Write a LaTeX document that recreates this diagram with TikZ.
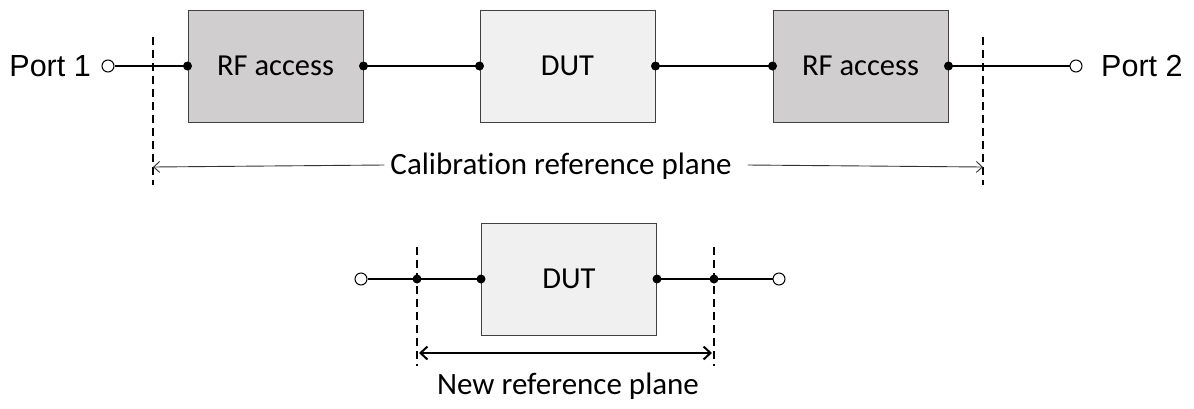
\documentclass[tikz,border=0pt]{standalone}
\usepackage{fontspec}
\setmainfont{Carlito}[Ligatures=NoCommon]
\newfontfamily\arialf{Liberation Sans}
\usetikzlibrary{arrows.meta}
\definecolor{rfgray}{HTML}{D0CECE}
\definecolor{dutgray}{HTML}{F0F0F0}
\definecolor{bordergray}{HTML}{404040}
\begin{document}
\begin{tikzpicture}[x=1pt,y=-1pt,
  blockbox/.style={draw=bordergray,line width=1pt,minimum width=175pt,minimum height=112pt,inner sep=0pt,font=\fontsize{30.5}{34}\selectfont},
  rfbox/.style={blockbox,fill=rfgray},
  dutbox/.style={blockbox,fill=dutgray},
  wire/.style={line width=2.2pt},
  dotpt/.style={circle,fill=black,inner sep=0pt,minimum size=9pt},
  opent/.style={circle,draw=black,fill=white,line width=1pt,inner sep=0pt,minimum size=12pt},
  plane/.style={line width=1.8pt,dash pattern=on 8pt off 5pt},
  portlbl/.style={font=\arialf\fontsize{30.5}{34}\selectfont,inner sep=0pt},
  lbl/.style={font=\fontsize{31}{34}\selectfont,inner sep=0pt}]
\useasboundingbox (0,0) rectangle (1194,408);
% top row
\node[rfbox] (rf1) at (275.5,66) {RF access};
\node[dutbox] (dut1) at (567.5,66) {DUT};
\node[rfbox] (rf2) at (860.5,66) {RF access};
\node[opent] (p1) at (108,66) {};
\node[opent] (p2) at (1076,66) {};
\node[portlbl,anchor=east] (p1l) at (91,66) {Port 1};
\node[portlbl,anchor=west] (p2l) at (1101,66) {Port 2};
\draw[wire] (p1) -- (rf1.west);
\draw[wire] (rf1.east) -- (dut1.west);
\draw[wire] (dut1.east) -- (rf2.west);
\draw[wire] (rf2.east) -- (p2);
\foreach \n in {rf1,dut1,rf2}{
  \node[dotpt] at (\n.west) {};
  \node[dotpt] at (\n.east) {};
}
\coordinate (c1t) at (153,37); \coordinate (c1b) at (153,185);
\coordinate (c2t) at (983,37); \coordinate (c2b) at (983,185);
\draw[plane] (c1t) -- (c1b);
\draw[plane] (c2t) -- (c2b);
\node[lbl] (cal) at (561,166) {Calibration reference plane};
\coordinate (a1) at (153,167); \coordinate (a2) at (983,167);
\draw[line width=0.9pt,draw=black!80,-{Straight Barb[length=6pt,width=11pt]}] (cal.west) ++(-6pt,1pt) -- (a1);
\draw[line width=0.9pt,draw=black!80,-{Straight Barb[length=6pt,width=11pt]}] (cal.east) ++(16pt,1pt) -- (a2);
% bottom row
\node[dutbox] (dut2) at (569,279) {DUT};
\node[opent] (q1) at (361,279) {};
\node[opent] (q2) at (779,279) {};
\coordinate (r1) at (417,279); \coordinate (r2) at (714,279);
\draw[wire] (q1) -- (dut2.west);
\draw[wire] (dut2.east) -- (q2);
\node[dotpt] at (dut2.west) {};
\node[dotpt] at (dut2.east) {};
\node[dotpt] at (r1) {};
\node[dotpt] at (r2) {};
\coordinate (d1t) at (417,247); \coordinate (d1b) at (417,366);
\coordinate (d2t) at (714,247); \coordinate (d2b) at (714,366);
\draw[plane] (d1t) -- (d1b);
\draw[plane] (d2t) -- (d2b);
\coordinate (b1) at (419,353); \coordinate (b2) at (712,353);
\draw[line width=2pt,{Straight Barb[length=7pt,width=13pt]}-{Straight Barb[length=7pt,width=13pt]}] (b1) -- (b2);
\node[lbl] (newl) at (568,386) {New reference plane};
\end{tikzpicture}
\end{document}
